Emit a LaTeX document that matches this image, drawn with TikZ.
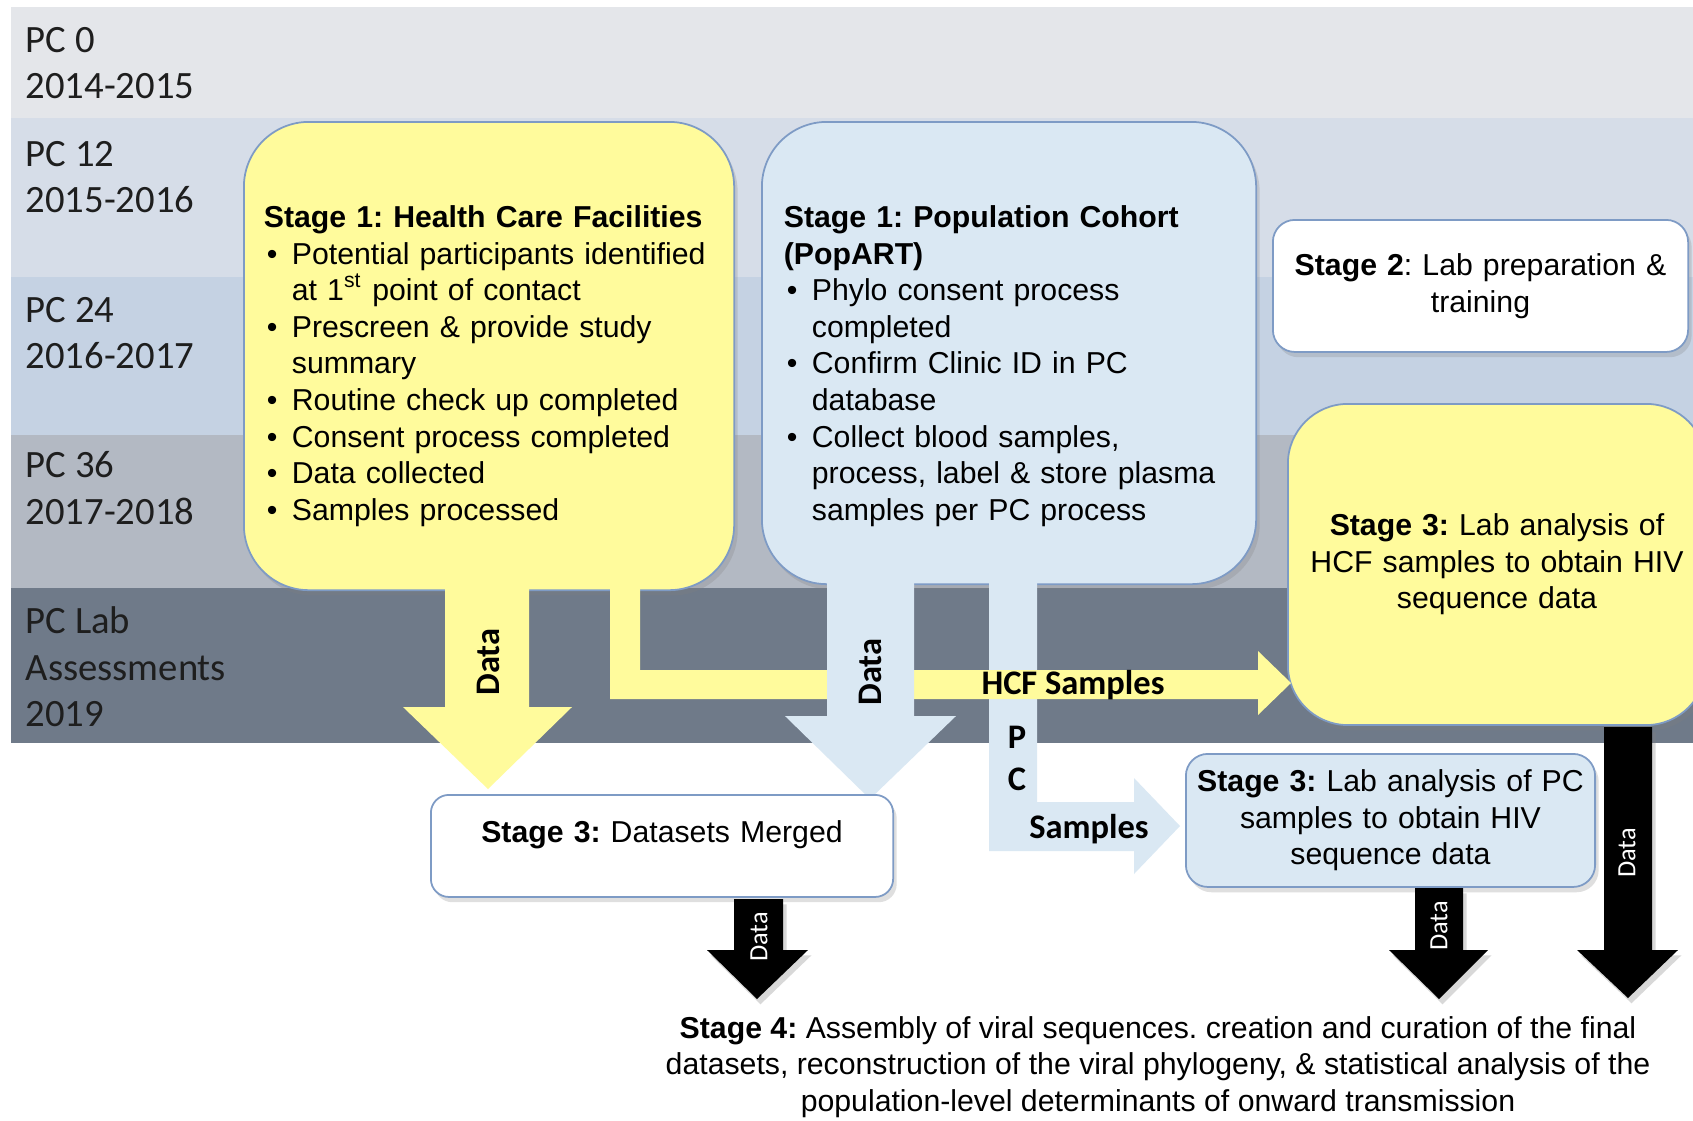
\documentclass[tikz,border=0pt]{standalone}
\usepackage{fontspec}
\setmainfont{Liberation Sans}
\newfontfamily\calibri{Carlito}
\usetikzlibrary{shadows}
\frenchspacing

\definecolor{bandzero}{HTML}{E4E6EA}
\definecolor{bandtwelve}{HTML}{D6DDE8}
\definecolor{bandtwentyfour}{HTML}{C5D2E3}
\definecolor{bandthirtysix}{HTML}{B3B9C3}
\definecolor{bandlab}{HTML}{6F7A89}
\definecolor{hcfyellow}{HTML}{FFFB9C}
\definecolor{pcblue}{HTML}{DAE8F3}
\definecolor{boxline}{HTML}{7E9BC5}
\definecolor{labeltext}{HTML}{1E1E1E}

% bullet line with hanging indent
\newcommand{\bitem}[1]{\par\hangindent=0.28cm\hangafter=1\noindent\makebox[0.28cm][l]{\hspace{0.03cm}\textbullet}#1\par}

\begin{document}
\begin{tikzpicture}[x=0.01cm, y=-0.01cm,
    stagebox/.style={draw=boxline, line width=0.5pt, inner ysep=0pt,
      font=\fontsize{8.6}{10.4}\selectfont,
      drop shadow={shadow xshift=1pt, shadow yshift=-1.5pt, opacity=0.25}},
    bandlabel/.style={anchor=west, align=left, inner sep=0pt, text=labeltext,
      font=\calibri\fontsize{11}{13.2}\selectfont},
    flowlabel/.style={inner sep=0pt, font=\calibri\bfseries\fontsize{9.8}{11}\selectfont},
    datalabel/.style={inner sep=0pt, rotate=90, text=white,
      font=\calibri\fontsize{7.5}{9}\selectfont},
    blackarrow/.style={fill=black, drop shadow={shadow xshift=1pt, shadow yshift=-1.5pt, opacity=0.3}}]

    \useasboundingbox (0,0) rectangle (1693,1120);
    \fill[white] (0,0) rectangle (1693,1120);

    % time bands
    \fill[bandzero] (11,7) rectangle (1693,118);
    \fill[bandtwelve] (11,118) rectangle (1693,277);
    \fill[bandtwentyfour] (11,277) rectangle (1693,435);
    \fill[bandthirtysix] (11,435) rectangle (1693,588);
    \fill[bandlab] (11,588) rectangle (1693,743);

    \node[bandlabel] (pc0) at (25,63) {PC 0\\2014-2015};
    \node[bandlabel] (pc12) at (25,177) {PC 12\\2015-2016};
    \node[bandlabel] (pc24) at (25,333) {PC 24\\2016-2017};
    \node[bandlabel] (pc36) at (25,488) {PC 36\\2017-2018};
    \node[bandlabel] (pclab) at (25,667) {PC Lab\\Assessments\\2019};

    % stage boxes
    \node[stagebox, fill=hcfyellow, rounded corners=0.65cm, anchor=north west,
      text width=4.5cm, inner xsep=0.2cm, minimum height=4.68cm, align=left]
      (hcf) at (243,121) {\rule{0pt}{0.42cm}\textbf{Stage 1: Health Care Facilities}
      \bitem{Potential participants identified\newline at 1\textsuperscript{st} point of contact}
      \bitem{Prescreen \& provide study\newline summary}
      \bitem{Routine check up completed}
      \bitem{Consent process completed}
      \bitem{Data collected}
      \bitem{Samples processed}};

    \node[stagebox, fill=pcblue, rounded corners=0.65cm, anchor=north west,
      text width=4.5cm, inner xsep=0.22cm, minimum height=4.62cm, align=left]
      (popart) at (761,121) {\rule{0pt}{0.48cm}\textbf{Stage 1: Population Cohort}\\\textbf{(PopART)}
      \bitem{Phylo consent process\newline completed}
      \bitem{Confirm Clinic ID in PC\newline database}
      \bitem{Collect blood samples,\newline process, label \& store plasma\newline samples per PC process}};

    \node[stagebox, fill=white, rounded corners=0.22cm, anchor=north west,
      text width=3.9cm, inner xsep=0.125cm, minimum height=1.32cm, align=center]
      (prep) at (1272,219) {\textbf{Stage 2}: Lab preparation \&\\training};

    \node[stagebox, fill=hcfyellow, rounded corners=0.6cm, anchor=north west,
      text width=3.9cm, inner xsep=0.14cm, minimum height=3.21cm, align=center]
      (hcflab) at (1287,403) {\textbf{Stage 3:} Lab analysis of\\HCF samples to obtain HIV\\sequence data};

    % block arrows
    \fill[pcblue] (989,580) -- (1037,580) -- (1037,802) -- (1134,802) -- (1134,778)
      -- (1180,826) -- (1134,874) -- (1134,851) -- (989,851) -- cycle;
    \fill[hcfyellow] (610,585) -- (640,585) -- (640,670) -- (1258,670) -- (1258,651)
      -- (1291,683) -- (1258,715) -- (1258,699) -- (610,699) -- cycle;
    \fill[hcfyellow] (445,585) -- (529,585) -- (529,707) -- (572,707) -- (488,789)
      -- (403,707) -- (445,707) -- cycle;
    \fill[pcblue] (827,580) -- (914,580) -- (914,716) -- (956,716) -- (870,799)
      -- (785,716) -- (827,716) -- cycle;

    \node[stagebox, fill=white, rounded corners=0.18cm, anchor=north west,
      text width=4.4cm, inner xsep=0.11cm, minimum height=1.02cm, align=center]
      (merged) at (430,794) {\textbf{Stage 3:} Datasets Merged\rule[-0.28cm]{0pt}{0pt}};

    \node[stagebox, fill=pcblue, rounded corners=0.22cm, anchor=north west,
      text width=4.0cm, inner xsep=0.045cm, minimum height=1.33cm, align=center]
      (pcbox) at (1185,753) {\textbf{Stage 3:} Lab analysis of PC\\samples to obtain HIV\\sequence data};

    \fill[blackarrow] (734,899) -- (783,899) -- (783,950) -- (808,950) -- (757,999)
      -- (707,950) -- (734,950) -- cycle;
    \fill[blackarrow] (1415,888) -- (1463,888) -- (1463,950) -- (1488,950) -- (1439,999)
      -- (1389,950) -- (1415,950) -- cycle;
    \fill[blackarrow] (1604,727) -- (1652,727) -- (1652,950) -- (1678,950) -- (1628,998)
      -- (1577,950) -- (1604,950) -- cycle;

    % arrow labels
    \node[flowlabel, rotate=90] (ydata) at (488,662) {Data};
    \node[flowlabel, rotate=90] (bdata) at (870,672) {Data};
    \node[flowlabel] (hcfsamples) at (1073,685) {HCF Samples};
    \node[flowlabel] (pcp) at (1017,737) {P};
    \node[flowlabel] (pcc) at (1017,779) {C};
    \node[flowlabel] (pcsamples) at (1089,829) {Samples};
    \node[datalabel] (kdataa) at (759,937) {Data};
    \node[datalabel] (kdatab) at (1439,926) {Data};
    \node[datalabel] (kdatac) at (1627,853) {Data};

    \node[align=center, font=\fontsize{8.6}{10.4}\selectfont] (final) at (1158,1067)
      {\textbf{Stage 4:} Assembly of viral sequences. creation and curation of the final\\
      datasets, reconstruction of the viral phylogeny, \& statistical analysis of the\\
      population-level determinants of onward transmission};
\end{tikzpicture}
\end{document}
